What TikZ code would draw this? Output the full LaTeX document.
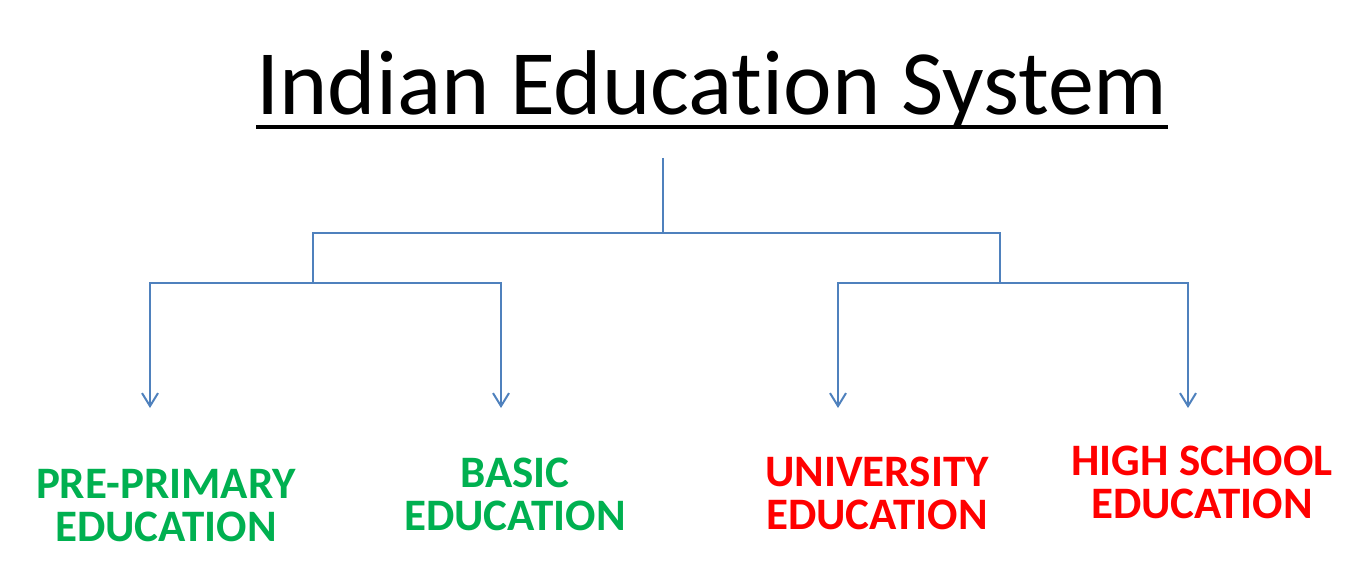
\documentclass[tikz,border=0pt]{standalone}
\usepackage{fontspec}
\setmainfont{Carlito}[Ligatures={NoCommon}]
\usetikzlibrary{arrows.meta,positioning}
\definecolor{linkblue}{RGB}{79,129,189}
\definecolor{stagegreen}{RGB}{0,176,80}
\definecolor{stagered}{RGB}{255,0,0}

\begin{document}
\begin{tikzpicture}[x=1pt,y=-1pt,
    link/.style={linkblue,line width=2pt},
    down/.style={link,-{Straight Barb[length=13pt,width=16pt,line width=2pt]}},
    stage/.style={align=center,inner sep=0pt,font=\fontsize{45}{43}\selectfont\bfseries}]
    \useasboundingbox (0,0) rectangle (1372,572);
    % title, underlined
    \node[inner sep=0pt,anchor=base,font=\fontsize{92}{100}\selectfont] (title) at (712,115) {Indian Education System};
    \draw[line width=4pt] ([yshift=-12pt]title.base west) -- ([yshift=-12pt]title.base east);
    % tree joints
    \coordinate (root) at (663,158);
    \coordinate (hub) at (663,233);
    \coordinate (lsplit) at (313,283);
    \coordinate (rsplit) at (1000,283);
    \coordinate (pretip) at (150,408);
    \coordinate (basictip) at (501,408);
    \coordinate (univtip) at (838,408);
    \coordinate (hightip) at (1188,408);
    \draw[link] (root) -- (hub);
    \draw[link] (hub) -| (lsplit);
    \draw[link] (hub) -| (rsplit);
    \foreach \s/\t in {lsplit/pretip,lsplit/basictip,rsplit/univtip,rsplit/hightip}
      \draw[down] (\s) -| (\t);
    % stages
    \node[stage,stagegreen] (pre) at (166,506) {PRE-PRIMARY\\EDUCATION};
    \node[stage,stagegreen] (basic) at (515,494) {BASIC\\EDUCATION};
    \node[stage,stagered] (univ) at (877,493) {UNIVERSITY\\EDUCATION};
    \node[stage,stagered] (high) at (1202,482) {HIGH SCHOOL\\EDUCATION};
  \end{tikzpicture}
\end{document}
